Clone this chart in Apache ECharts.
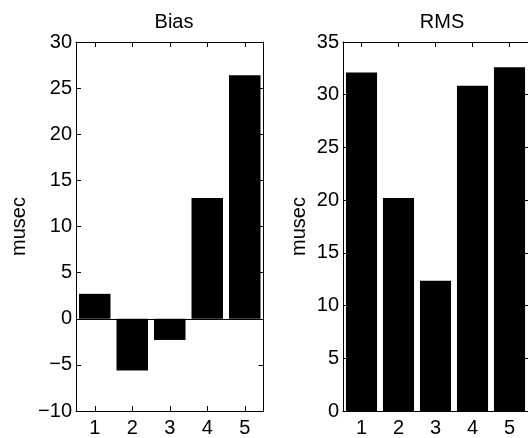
<!DOCTYPE html>
<html>
<head>
<meta charset="utf-8">
<script src="https://cdn.jsdelivr.net/npm/echarts@6/dist/echarts.min.js"></script>
<style>
html, body {margin: 0; padding: 0; background: #fff;}
#chart {width: 528px; height: 438px;}
</style>
</head>
<body>
<div id="chart"></div>
<script>
const categories = ['1', '2', '3', '4', '5'];
const bias = [2.7, -5.6, -2.3, 13.1, 26.4];
const rms = [32.1, 20.2, 12.35, 30.85, 32.6];
const biasTicks = {min: -10, max: 30, interval: 5};
const rmsTicks = {min: 0, max: 35, interval: 5};

const font = 'Liberation Sans, Arial, Helvetica, sans-serif';
const size = 20;
const line = {show: true, onZero: false, lineStyle: {color: '#000', width: 1}};
const tick = {show: true, inside: true, length: 5, lineStyle: {color: '#000'}};
const minus = v => String(v).replace('-', '\u2212');

function xAxes(grid)
{
	return [{
		gridIndex: grid, type: 'category', data: categories, position: 'bottom',
		axisLine: line, axisTick: Object.assign({alignWithLabel: true}, tick),
		axisLabel: {color: '#000', fontSize: size, fontFamily: font, margin: 7},
		splitLine: {show: false}
	}, {
		gridIndex: grid, type: 'category', data: categories, position: 'top',
		axisLine: line, axisTick: Object.assign({alignWithLabel: true}, tick),
		axisLabel: {show: false}, splitLine: {show: false}
	}];
}

function yAxes(grid, ticks, gap)
{
	return [{
		gridIndex: grid, type: 'value', position: 'left', ...ticks,
		name: 'musec', nameLocation: 'middle', nameRotate: 90, nameGap: gap,
		nameTextStyle: {color: '#000', fontSize: size, fontFamily: font},
		axisLine: line, axisTick: tick,
		axisLabel: {color: '#000', fontSize: size, fontFamily: font, margin: 4, formatter: minus},
		splitLine: {show: false}
	}, {
		gridIndex: grid, type: 'value', position: 'right', ...ticks,
		axisLine: line, axisTick: tick, axisLabel: {show: false}, splitLine: {show: false}
	}];
}

const chart = echarts.init(document.getElementById('chart'), null, {renderer: 'canvas'});
chart.setOption({
	animation: false,
	backgroundColor: '#fff',
	title: [
		{text: 'Bias', left: 169, top: 7, textAlign: 'center',
			textStyle: {color: '#000', fontSize: size, fontWeight: 'normal', fontFamily: font}},
		{text: 'RMS', left: 437, top: 7, textAlign: 'center',
			textStyle: {color: '#000', fontSize: size, fontWeight: 'normal', fontFamily: font}}
	],
	grid: [
		{left: 76, top: 42, width: 187.5, height: 372},
		{left: 343, top: 42, width: 189, height: 372}
	],
	xAxis: [...xAxes(0), ...xAxes(1)],
	yAxis: [...yAxes(0, biasTicks, 47), ...yAxes(1, rmsTicks, 34)],
	series: [{
		type: 'bar', xAxisIndex: 0, yAxisIndex: 0, data: bias,
		barCategoryGap: '16%',
		itemStyle: {color: '#000'},
		markLine: {
			silent: true, symbol: 'none', label: {show: false},
			lineStyle: {color: '#000', type: 'solid', width: 1},
			data: [{yAxis: 0}]
		}
	}, {
		type: 'bar', xAxisIndex: 2, yAxisIndex: 2, data: rms,
		barCategoryGap: '16%',
		itemStyle: {color: '#000'}
	}]
});
</script>
</body>
</html>
